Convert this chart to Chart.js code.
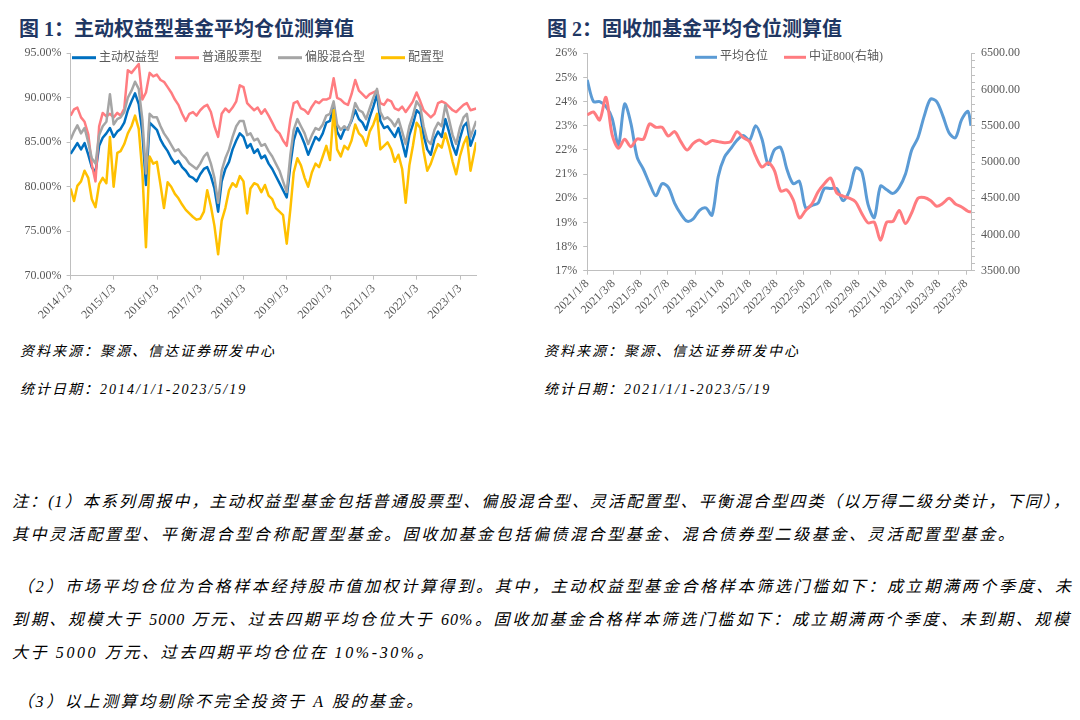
<!DOCTYPE html>
<html>
<head>
<meta charset="utf-8">
<script src="https://cdn.jsdelivr.net/npm/chart.js@4.4.0/dist/chart.umd.min.js"></script>
<style>
body { margin: 0; width: 1080px; height: 720px; background: #fff; position: relative; overflow: hidden; font-family: "Liberation Serif", "Noto Sans CJK SC", serif; }
.title { position: absolute; top: 17px; font-size: 20px; font-weight: bold; color: #1f3763; line-height: 24px; white-space: nowrap; }
canvas { position: absolute; }
.src { position: absolute; font-size: 14px; font-style: italic; letter-spacing: 2px; line-height: 18px; color: #000; white-space: nowrap; }
.note { position: absolute; font-size: 16px; font-style: italic; line-height: 22px; color: #000; letter-spacing: 2.6px; }
.just { text-align: justify; text-align-last: justify; letter-spacing: 1px; }
</style>
</head>
<body>
<div class="title" style="left:19px">图 1：主动权益型基金平均仓位测算值</div>
<div class="title" style="left:547px">图 2：固收加基金平均仓位测算值</div>
<canvas id="chart1" width="500" height="300" style="left:0;top:40px;width:500px;height:300px"></canvas>
<canvas id="chart2" width="540" height="300" style="left:540px;top:40px;width:540px;height:300px"></canvas>
<div class="src" style="left:20px;top:343px">资料来源：聚源、信达证券研发中心</div>
<div class="src" style="left:20px;top:381px">统计日期：2014/1/1-2023/5/19</div>
<div class="src" style="left:544px;top:343px">资料来源：聚源、信达证券研发中心</div>
<div class="src" style="left:544px;top:381px">统计日期：2021/1/1-2023/5/19</div>
<div class="note just" style="left:12px;top:491px;width:1058px">注：(1）本系列周报中，主动权益型基金包括普通股票型、偏股混合型、灵活配置型、平衡混合型四类（以万得二级分类计，下同），</div>
<div class="note" style="left:12px;top:524px">其中灵活配置型、平衡混合型合称配置型基金。固收加基金包括偏债混合型基金、混合债券型二级基金、灵活配置型基金。</div>
<div class="note just" style="left:17px;top:576px;width:1055px">（2）市场平均仓位为合格样本经持股市值加权计算得到。其中，主动权益型基金合格样本筛选门槛如下：成立期满两个季度、未</div>
<div class="note just" style="left:12px;top:609px;width:1058px">到期、规模大于 5000 万元、过去四期平均仓位大于 60%。固收加基金合格样本筛选门槛如下：成立期满两个季度、未到期、规模</div>
<div class="note" style="left:12px;top:642px">大于 5000 万元、过去四期平均仓位在 10%-30%。</div>
<div class="note" style="left:17px;top:691px">（3）以上测算均剔除不完全投资于 A 股的基金。</div>
<script>
// chart 1: monthly readings
const dates1 = [
    '2014/1/3', '2014/2/1', '2014/3/1', '2014/4/1', '2014/5/1', '2014/6/1', '2014/7/1', '2014/8/1', '2014/9/1', '2014/10/1', '2014/11/1', '2014/12/1',
    '2015/1/1', '2015/2/1', '2015/3/1', '2015/4/1', '2015/5/1', '2015/6/1', '2015/7/1', '2015/8/1', '2015/9/1', '2015/10/1', '2015/11/1', '2015/12/1',
    '2016/1/1', '2016/2/1', '2016/3/1', '2016/4/1', '2016/5/1', '2016/6/1', '2016/7/1', '2016/8/1', '2016/9/1', '2016/10/1', '2016/11/1', '2016/12/1',
    '2017/1/1', '2017/2/1', '2017/3/1', '2017/4/1', '2017/5/1', '2017/6/1', '2017/7/1', '2017/8/1', '2017/9/1', '2017/10/1', '2017/11/1', '2017/12/1',
    '2018/1/1', '2018/2/1', '2018/3/1', '2018/4/1', '2018/5/1', '2018/6/1', '2018/7/1', '2018/8/1', '2018/9/1', '2018/10/1', '2018/11/1', '2018/12/1',
    '2019/1/1', '2019/2/1', '2019/3/1', '2019/4/1', '2019/5/1', '2019/6/1', '2019/7/1', '2019/8/1', '2019/9/1', '2019/10/1', '2019/11/1', '2019/12/1',
    '2020/1/1', '2020/2/1', '2020/3/1', '2020/4/1', '2020/5/1', '2020/6/1', '2020/7/1', '2020/8/1', '2020/9/1', '2020/10/1', '2020/11/1', '2020/12/1',
    '2021/1/1', '2021/2/1', '2021/3/1', '2021/4/1', '2021/5/1', '2021/6/1', '2021/7/1', '2021/8/1', '2021/9/1', '2021/10/1', '2021/11/1', '2021/12/1',
    '2022/1/1', '2022/2/1', '2022/3/1', '2022/4/1', '2022/5/1', '2022/6/1', '2022/7/1', '2022/8/1', '2022/9/1', '2022/10/1', '2022/11/1', '2022/12/1',
    '2023/1/1', '2023/2/1', '2023/3/1', '2023/4/1', '2023/5/19'
];
const zhudong = [
    83.7, 84.3, 84.9, 84.2, 84.9, 83.6, 82.2, 81.6, 84.6, 85.5, 86.0, 86.6,
    85.6, 86.2, 86.5, 87.2, 88.6, 89.6, 90.5, 89.3, 86.0, 80.2, 87.2, 86.8,
    86.4, 85.3, 84.6, 84.0, 83.2, 82.6, 82.9, 82.2, 81.8, 81.2, 81.0, 80.6,
    81.4, 82.0, 82.2, 81.2, 79.8, 77.2, 80.6, 82.0, 82.8, 84.2, 85.2, 86.0,
    85.6, 84.4, 84.8, 83.8, 84.2, 83.2, 83.5, 82.6, 82.0, 81.2, 80.4, 79.6,
    78.8, 82.5, 85.2, 86.6, 85.8, 84.8, 83.6, 84.6, 85.6, 85.2, 86.0, 87.2,
    87.4, 89.2, 86.2, 85.4, 86.4, 86.6, 87.4, 88.6, 87.6, 87.2, 86.4, 87.8,
    89.0, 90.4, 87.4, 86.6, 86.8, 86.2, 85.6, 86.6, 85.0, 83.4, 85.8, 87.0,
    88.6, 88.2, 85.8, 84.2, 83.6, 85.4, 86.2, 85.6, 87.6, 86.2, 84.6, 83.6,
    85.4, 86.8, 87.2, 84.6, 86.4
];
const putong = [
    88.0, 88.7, 88.9, 87.8, 87.3, 85.9, 82.5, 80.6, 86.8, 88.3, 87.9, 88.2,
    87.8, 88.3, 88.0, 88.8, 93.1, 92.8, 93.3, 93.8, 89.8, 90.6, 92.8, 92.4,
    92.6, 92.0, 91.8, 91.2, 90.6, 89.8, 89.2, 88.2, 87.4, 88.2, 88.4, 88.0,
    88.6, 89.0, 89.2, 88.4, 86.8, 85.6, 88.2, 88.8, 88.4, 88.9, 89.6, 91.4,
    91.2, 89.4, 89.0, 88.6, 88.9, 88.2, 88.7, 88.0, 87.2, 86.4, 86.0, 85.2,
    84.6, 87.6, 89.4, 89.6, 88.8, 88.6, 88.2, 89.0, 89.6, 89.4, 89.8, 89.8,
    90.0, 92.2, 90.0, 89.8, 89.4, 89.2, 90.4, 92.0, 90.8, 90.4, 90.0, 90.4,
    90.6, 90.8, 89.4, 89.2, 89.8, 89.6, 88.8, 88.6, 89.0, 88.4, 89.0, 89.6,
    90.6, 89.6, 88.6, 88.2, 87.8, 88.2, 89.4, 89.6, 89.4, 89.0, 88.6, 88.4,
    88.8, 89.2, 89.4, 88.6, 88.8
];
const piangu = [
    85.3, 86.2, 86.9, 86.0, 86.6, 85.0, 83.2, 82.6, 85.8, 86.8, 87.3, 90.4,
    87.0, 87.6, 87.8, 88.4, 90.0, 90.8, 91.8, 91.0, 87.5, 81.5, 88.2, 87.8,
    87.8, 86.8, 86.0, 85.4, 84.7, 84.0, 84.2, 83.6, 83.2, 82.6, 82.3, 82.0,
    82.6, 83.4, 83.8, 82.6, 81.0, 78.2, 81.8, 83.2, 84.2, 85.6, 86.8, 87.4,
    87.4, 85.8, 86.0, 85.2, 85.4, 84.6, 84.8, 84.0, 83.4, 82.6, 81.8, 80.6,
    79.4, 83.6, 86.4, 87.6, 86.8, 86.0, 84.8, 85.8, 86.6, 86.4, 87.0, 88.0,
    88.2, 89.6, 87.0, 86.4, 86.8, 86.4, 87.6, 89.4, 88.6, 88.4, 87.6, 88.8,
    90.0, 91.0, 88.4, 87.6, 87.8, 87.4, 86.8, 87.6, 86.2, 84.8, 86.8, 88.0,
    89.6, 89.0, 86.8, 85.2, 84.8, 86.4, 87.2, 86.8, 89.2, 87.6, 85.8, 84.8,
    86.6, 87.8, 88.2, 85.6, 87.4
];
const peizhi = [
    79.8, 78.4, 80.1, 80.6, 81.8, 81.0, 78.6, 77.7, 80.3, 81.0, 80.4, 85.6,
    80.0, 83.8, 84.0, 84.8, 86.0, 86.8, 88.0, 86.5, 81.5, 73.2, 83.4, 82.6,
    82.8, 80.2, 77.6, 80.5, 80.0, 79.2, 78.7, 78.0, 77.4, 77.0, 76.6, 76.3,
    76.4, 77.2, 79.6, 77.8, 75.6, 72.4, 76.2, 77.6, 79.6, 80.4, 80.0, 81.2,
    80.6, 77.0, 79.8, 80.4, 80.2, 79.4, 80.2, 79.0, 78.6, 77.6, 77.2, 76.8,
    73.6, 77.5, 81.6, 83.2, 82.4, 81.0, 80.0, 81.6, 82.6, 82.2, 83.4, 84.6,
    83.0, 88.6, 84.2, 83.4, 84.6, 84.2, 85.2, 87.0, 86.0, 85.6, 84.6, 86.2,
    87.0, 88.2, 84.2, 84.6, 85.0, 84.2, 82.8, 83.6, 82.0, 78.2, 82.4, 84.6,
    87.2, 86.6, 84.0, 81.8, 82.6, 83.8, 84.8, 84.4, 86.0, 84.6, 82.8, 81.4,
    83.4, 84.8, 85.6, 81.8, 85.0
];
const xTicks1 = ['2014/1/3', '2015/1/3', '2016/1/3', '2017/1/3', '2018/1/3', '2019/1/3', '2020/1/3', '2021/1/3', '2022/1/3', '2023/1/3'];

// chart 2: fortnightly readings
const dates2 = [
    '2021/1/8', '2021/1/22', '2021/2/5', '2021/2/19', '2021/3/5', '2021/3/19', '2021/4/2', '2021/4/16', '2021/4/30', '2021/5/14',
    '2021/5/28', '2021/6/11', '2021/6/25', '2021/7/9', '2021/7/23', '2021/8/6', '2021/8/20', '2021/9/3', '2021/9/17', '2021/10/1',
    '2021/10/15', '2021/10/29', '2021/11/12', '2021/11/26', '2021/12/10', '2021/12/24', '2022/1/7', '2022/1/21', '2022/2/4', '2022/2/18',
    '2022/3/4', '2022/3/18', '2022/4/1', '2022/4/15', '2022/4/29', '2022/5/13', '2022/5/27', '2022/6/10', '2022/6/24', '2022/7/8',
    '2022/7/22', '2022/8/5', '2022/8/19', '2022/9/2', '2022/9/16', '2022/9/30', '2022/10/14', '2022/10/28', '2022/11/11', '2022/11/25',
    '2022/12/9', '2022/12/23', '2023/1/6', '2023/1/20', '2023/2/3', '2023/2/17', '2023/3/3', '2023/3/17', '2023/3/31', '2023/4/14',
    '2023/4/28', '2023/5/12', '2023/5/19'
];
const avgPosition = [
    24.9, 24.0, 24.0, 23.8, 23.3, 22.2, 23.9, 23.1, 21.7, 21.2,
    20.6, 20.1, 20.6, 20.45, 19.8, 19.35, 19.05, 19.15, 19.5, 19.6,
    19.3, 20.9, 21.7, 22.05, 22.4, 22.6, 22.4, 23.0, 22.45, 21.4,
    22.0, 22.1, 21.2, 20.6, 20.7, 19.6, 19.7, 19.8, 20.4, 20.4,
    20.4, 19.9, 20.3, 21.25, 21.1, 19.75, 19.2, 20.5, 20.35, 20.2,
    20.45, 21.0, 22.0, 22.5, 23.4, 24.1, 24.0, 23.4, 22.7, 22.5,
    23.25, 23.6, 23.0
];
const csi800 = [
    5649, 5690, 5580, 5893, 5373, 5189, 5313, 5212, 5318, 5313,
    5525, 5479, 5479, 5359, 5419, 5281, 5166, 5258, 5304, 5249,
    5295, 5281, 5267, 5281, 5419, 5336, 5281, 5080, 4930, 4990,
    4880, 4600, 4614, 4480, 4230, 4330, 4420, 4590, 4700, 4780,
    4570, 4530, 4500, 4450, 4290, 4160, 4170, 3920, 4170, 4180,
    4330, 4150, 4300, 4500, 4510, 4470, 4390, 4430, 4500, 4420,
    4380, 4320, 4310
];
const xTicks2 = ['2021/1/8', '2021/3/8', '2021/5/8', '2021/7/8', '2021/9/8', '2021/11/8', '2022/1/8', '2022/3/8', '2022/5/8', '2022/7/8', '2022/9/8', '2022/11/8', '2023/1/8', '2023/3/8', '2023/5/8'];

function toDay(s) {
    const [y, m, d] = s.split('/').map(Number);
    return Date.UTC(y, m - 1, d) / 86400000;
}
function pts(dates, vals) { return dates.map((d, i) => ({ x: toDay(d), y: vals[i] })); }

Chart.defaults.font.family = '"Liberation Serif", "Noto Sans CJK SC", serif';
Chart.defaults.font.size = 12;
Chart.defaults.color = '#595959';

const AXIS = '#bfbfbf';

// legend drawn inside the plot, like the Excel original
const insideLegend = {
    id: 'insideLegend',
    afterDraw(chart, args, opts) {
        const { ctx, chartArea } = chart;
        ctx.save();
        ctx.font = '12px "Liberation Serif", "Noto Sans CJK SC"';
        ctx.textBaseline = 'middle';
        let x = chartArea.left + opts.offsetX;
        const y = chartArea.top + opts.offsetY;
        chart.data.datasets.forEach(ds => {
            ctx.strokeStyle = ds.borderColor;
            ctx.lineWidth = 3;
            ctx.beginPath();
            ctx.moveTo(x, y);
            ctx.lineTo(x + opts.lineLen, y);
            ctx.stroke();
            x += opts.lineLen + 3;
            ctx.fillStyle = '#595959';
            ctx.fillText(ds.label, x, y);
            x += ctx.measureText(ds.label).width + opts.gap;
        });
        ctx.restore();
    }
};

function dateAxis(ticksList, min, max, height) {
    return {
        type: 'linear',
        min: toDay(min),
        max: toDay(max),
        afterBuildTicks: s => { s.ticks = ticksList.map(t => ({ value: toDay(t) })); },
        afterFit: s => { s.height = height; },
        ticks: { autoSkip: false, minRotation: 45, maxRotation: 45, padding: 2, callback: (v, i) => ticksList[i] },
        grid: { drawOnChartArea: false, drawTicks: true, tickLength: 4, color: AXIS },
        border: { color: AXIS }
    };
}

new Chart(document.getElementById('chart1'), {
    type: 'line',
    data: {
        datasets: [
            { label: '主动权益型', data: pts(dates1, zhudong), borderColor: '#0070C0', order: 3 },
            { label: '普通股票型', data: pts(dates1, putong), borderColor: '#FF7C80', order: 2 },
            { label: '偏股混合型', data: pts(dates1, piangu), borderColor: '#A5A5A5', order: 1 },
            { label: '配置型', data: pts(dates1, peizhi), borderColor: '#FFC000', order: 0 }
        ].map(ds => Object.assign(ds, { borderWidth: 2.5, pointRadius: 0, tension: 0, borderJoinStyle: 'round' }))
    },
    options: {
        responsive: false,
        animation: false,
        layout: { padding: { left: 0, right: 23.8, top: 13.3, bottom: 0 } },
        plugins: {
            legend: { display: false },
            tooltip: { enabled: false },
            insideLegend: { offsetX: 1.4, offsetY: 4.4, lineLen: 24, gap: 16 }
        },
        scales: {
            x: dateAxis(xTicks1, '2014/1/3', '2023/5/19', 64.3),
            y: {
                min: 70, max: 95,
                afterFit: s => { s.width = 70.6; },
                ticks: { stepSize: 5, padding: 5, callback: v => v.toFixed(2) + '%' },
                grid: { drawOnChartArea: false, drawTicks: true, tickLength: 4, color: AXIS },
                border: { color: AXIS }
            }
        }
    },
    plugins: [insideLegend]
});

new Chart(document.getElementById('chart2'), {
    type: 'line',
    data: {
        datasets: [
            { label: '平均仓位', data: pts(dates2, avgPosition), borderColor: '#5B9BD5', yAxisID: 'y', order: 1 },
            { label: '中证800(右轴)', data: pts(dates2, csi800), borderColor: '#FF7C80', yAxisID: 'y2', order: 0 }
        ].map(ds => Object.assign(ds, { borderWidth: 3, pointRadius: 0, tension: 0.3 }))
    },
    options: {
        responsive: false,
        animation: false,
        layout: { padding: { left: 0, right: 0, top: 13.3, bottom: 0 } },
        plugins: {
            legend: { display: false },
            tooltip: { enabled: false },
            insideLegend: { offsetX: 107.8, offsetY: 4.0, lineLen: 22, gap: 16 }
        },
        scales: {
            x: dateAxis(xTicks2, '2021/1/8', '2023/5/19', 69.3),
            y: {
                position: 'left',
                min: 17, max: 26,
                afterFit: s => { s.width = 47.2; },
                ticks: { stepSize: 1, padding: 6, callback: v => v + '%' },
                grid: { drawOnChartArea: false, drawTicks: true, tickLength: 4, color: AXIS },
                border: { color: AXIS }
            },
            y2: {
                position: 'right',
                min: 3500, max: 6500,
                afterFit: s => { s.width = 109; },
                ticks: { stepSize: 100, autoSkip: false, padding: 6, callback: v => v % 500 === 0 ? v.toFixed(2) : '' },
                grid: { drawOnChartArea: false, drawTicks: true, tickLength: 4, color: AXIS },
                border: { color: AXIS }
            }
        }
    },
    plugins: [insideLegend]
});
</script>
</body>
</html>
